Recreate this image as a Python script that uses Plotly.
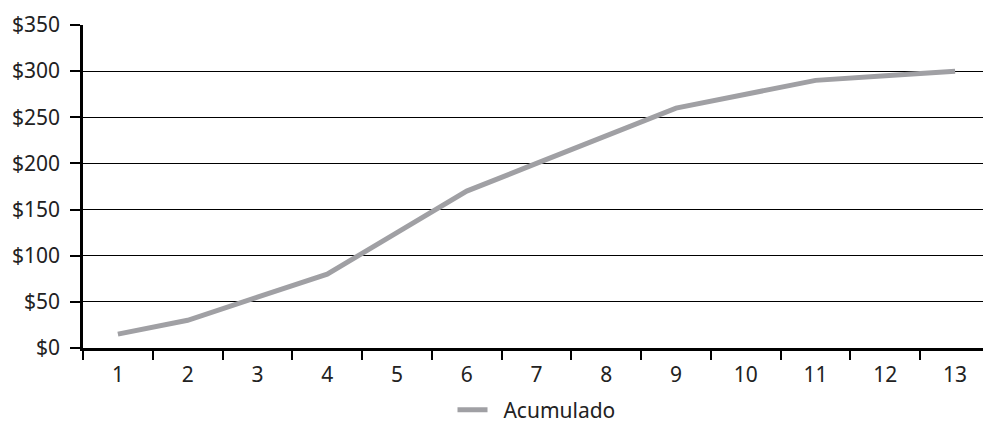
import plotly.graph_objects as go

periodos = [str(i) for i in range(1, 14)]
acumulado = [15, 30, 55, 80, 125, 170, 200, 230, 260, 275, 290, 295, 300]
y_ticks = [0, 50, 100, 150, 200, 250, 300, 350]
y_labels = ["$" + str(v) for v in y_ticks]

fig = go.Figure()
fig.add_trace(go.Scatter(
    x=periodos, y=acumulado, mode="lines", name="\u00a0\u00a0Acumulado",
    line=dict(color="#a0a0a4", width=5),
))

# page body has an 8px margin, so the margins below are shifted by that
fig.update_layout(
    width=991, height=425,
    margin=dict(l=75, r=9, t=17, b=85),
    plot_bgcolor="white", paper_bgcolor="white",
    font=dict(family="Noto Sans, Open Sans, sans-serif", size=21, color="#222222"),
    showlegend=True,
    legend=dict(orientation="h", x=0.5, xanchor="center", xref="paper",
                y=23 / 425, yanchor="middle", yref="container",
                font=dict(size=21)),
)
fig.update_xaxes(
    type="category", range=[-0.5, 12.5], tickson="boundaries",
    ticks="outside", ticklen=9, tickcolor="black", tickwidth=1.5,
    ticklabelstandoff=6, showgrid=False, automargin=False,
    showline=True, linecolor="black", linewidth=2.5,
)
fig.update_yaxes(
    range=[0, 350], tickvals=y_ticks, ticktext=y_labels,
    ticks="outside", ticklen=10, tickcolor="black", tickwidth=1.5,
    ticklabelstandoff=6, automargin=False,
    showgrid=True, gridcolor="black", gridwidth=1,
    showline=True, linecolor="black", linewidth=2.5, zeroline=False,
)

fig.write_html("out.html")
